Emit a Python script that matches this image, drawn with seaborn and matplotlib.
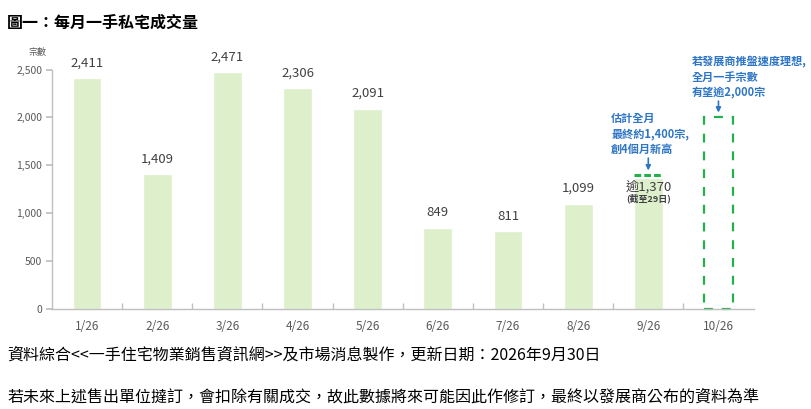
import matplotlib
matplotlib.use("Agg")
import matplotlib.pyplot as plt
import seaborn as sns
import pandas as pd
from matplotlib.patches import Rectangle

months = ["1/26", "2/26", "3/26", "4/26", "5/26", "6/26", "7/26", "8/26", "9/26", "10/26"]
sales = [2411, 1409, 2471, 2306, 2091, 849, 811, 1099, 1370, 0]
value_labels = ["2,411", "1,409", "2,471", "2,306", "2,091", "849", "811", "1,099", "逾1,370", ""]
est_sep = 1400
est_oct = 2000
y_ticks = [0, 500, 1000, 1500, 2000, 2500]

sns.set_theme(style="white")
plt.rcParams['font.family'] = ['Noto Sans CJK TC', 'DejaVu Sans']

fig = plt.figure(figsize=(8.12, 4.09), dpi=100)
ax = fig.add_axes([0.064, 0.245, 0.864, 0.585])

df = pd.DataFrame({"month": months, "sales": sales})
bar_color = "#DDEFCB"
sns.barplot(data=df, x="month", y="sales", color=bar_color, width=0.41,
            saturation=1, ax=ax, order=months)

ax.set_ylim(0, 2500)
ax.set_xlim(-0.5, 9.5)
ax.set_yticks(y_ticks)
ax.set_yticklabels([f"{v:,}" for v in y_ticks], fontsize=7.5, color="#595959")
ax.set_xticks(range(len(months)))
ax.set_xticklabels(months, fontsize=8.5, color="#595959")
ax.set_xlabel("")
ax.set_ylabel("")
for s in ["top", "right"]:
    ax.spines[s].set_visible(False)
for s in ["left", "bottom"]:
    ax.spines[s].set_color("#BFBFBF")
    ax.spines[s].set_linewidth(1)
ax.tick_params(axis="x", length=0, pad=8)
ax.tick_params(axis="y", length=4, color="#BFBFBF", direction="out", pad=3, left=True)
# category boundary ticks on x
ax.set_xticks([i + 0.5 for i in range(len(months) - 1)], minor=True)
ax.tick_params(axis="x", which="minor", length=4, direction="in", color="#BFBFBF", bottom=True)

# value labels
for i, (v, lab) in enumerate(zip(sales, value_labels)):
    if not lab:
        continue
    if i == 8:
        ax.text(i, v - 95, lab, ha="center", va="center", fontsize=9.5, color="#404040")
        ax.text(i, v - 215, "(截至29日)", ha="center", va="center", fontsize=6.5,
                color="#404040", fontweight="bold")
    else:
        ax.text(i, v + 90, lab, ha="center", va="bottom", fontsize=9.5, color="#404040")

green = "#22B04B"
w = 0.41
ax.plot([8 - w / 2, 8 + w / 2], [est_sep, est_sep], color=green, lw=2.2,
        linestyle=(0, (2.2, 1.0)), clip_on=False)
ax.add_patch(Rectangle((9 - w / 2, 0), w, est_oct, fill=False, edgecolor=green,
                       lw=1.6, linestyle=(0, (4, 4)), clip_on=False))

blue = "#2E75C6"
arrow_kw = dict(arrowstyle="-|>", color=blue, lw=1.2, mutation_scale=7,
                shrinkA=0, shrinkB=0)
ax.text(7.47, 1600, "估計全月\n最終約1,400宗,\n創4個月新高", ha="left", va="bottom",
        fontsize=8, color=blue, fontweight="bold", linespacing=1.25)
ax.annotate("", xy=(8, 1445), xytext=(8, 1575), arrowprops=arrow_kw)
ax.text(8.62, 2185, "若發展商推盤速度理想,\n全月一手宗數\n有望逾2,000宗", ha="left", va="bottom",
        fontsize=8, color=blue, fontweight="bold", linespacing=1.25)
ax.annotate("", xy=(9, 2050), xytext=(9, 2170), arrowprops=arrow_kw)

fig.text(0.035, 0.865, "宗數", fontsize=6.5, color="#595959")
fig.text(0.009, 0.945, "圖一：每月一手私宅成交量", fontsize=11.5, fontweight="bold",
         color="black", va="center")
fig.text(0.009, 0.133, "資料綜合<<一手住宅物業銷售資訊網>>及市場消息製作，更新日期：2026年9月30日",
         fontsize=11.5, color="black", va="center")
fig.text(0.009, 0.028, "若未來上述售出單位撻訂，會扣除有關成交，故此數據將來可能因此作修訂，最終以發展商公布的資料為準",
         fontsize=11.5, color="black", va="center")

fig.savefig("out.png", dpi=100)
